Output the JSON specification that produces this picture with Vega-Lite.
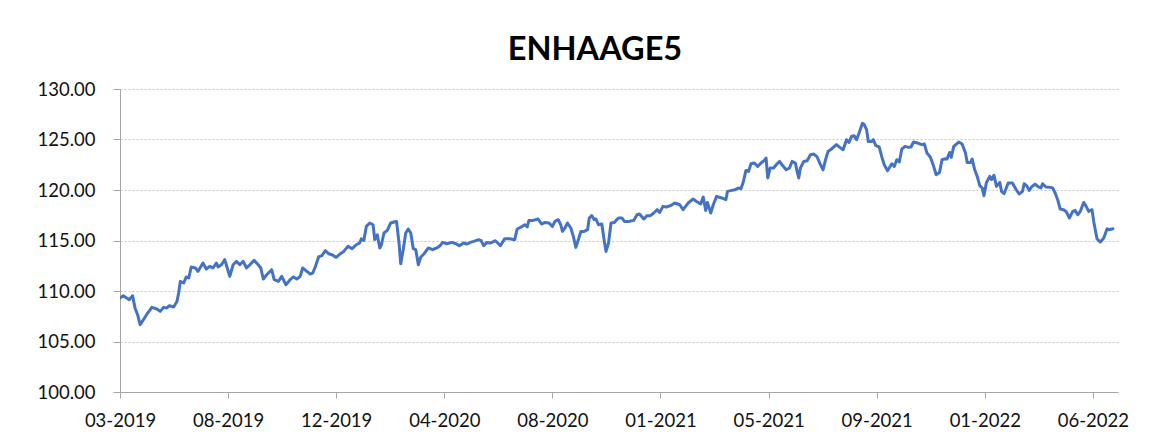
{
  "$schema": "https://vega.github.io/schema/vega-lite/v6.json",
  "width": 998,
  "height": 303,
  "autosize": {"type": "none"},
  "padding": {"left": 120, "top": 89, "right": 45, "bottom": 52},
  "background": "white",
  "title": {"text": "ENHAAGE5", "font": "Lato", "fontSize": 32.5, "fontWeight": "bold", "color": "#000000", "anchor": "middle", "dx": -24, "offset": 14},
  "data": {"values": [
    {"date": "2019-03-29", "value": 109.31},
    {"date": "2019-04-02", "value": 109.53},
    {"date": "2019-04-06", "value": 109.31},
    {"date": "2019-04-09", "value": 109.14},
    {"date": "2019-04-13", "value": 109.53},
    {"date": "2019-04-16", "value": 108.3},
    {"date": "2019-04-19", "value": 107.65},
    {"date": "2019-04-22", "value": 106.66},
    {"date": "2019-04-26", "value": 107.16},
    {"date": "2019-05-01", "value": 107.82},
    {"date": "2019-05-06", "value": 108.38},
    {"date": "2019-05-12", "value": 108.22},
    {"date": "2019-05-16", "value": 107.98},
    {"date": "2019-05-20", "value": 108.38},
    {"date": "2019-05-24", "value": 108.32},
    {"date": "2019-05-27", "value": 108.54},
    {"date": "2019-06-01", "value": 108.42},
    {"date": "2019-06-05", "value": 108.97},
    {"date": "2019-06-07", "value": 109.8},
    {"date": "2019-06-09", "value": 110.95},
    {"date": "2019-06-13", "value": 110.79},
    {"date": "2019-06-16", "value": 111.39},
    {"date": "2019-06-19", "value": 111.29},
    {"date": "2019-06-22", "value": 112.38},
    {"date": "2019-06-27", "value": 112.28},
    {"date": "2019-06-30", "value": 111.94},
    {"date": "2019-07-06", "value": 112.77},
    {"date": "2019-07-10", "value": 112.18},
    {"date": "2019-07-14", "value": 112.44},
    {"date": "2019-07-18", "value": 112.28},
    {"date": "2019-07-22", "value": 112.77},
    {"date": "2019-07-24", "value": 112.38},
    {"date": "2019-07-28", "value": 112.6},
    {"date": "2019-08-01", "value": 113.1},
    {"date": "2019-08-04", "value": 112.28},
    {"date": "2019-08-07", "value": 111.45},
    {"date": "2019-08-11", "value": 112.6},
    {"date": "2019-08-15", "value": 112.93},
    {"date": "2019-08-19", "value": 112.6},
    {"date": "2019-08-23", "value": 112.93},
    {"date": "2019-08-27", "value": 112.28},
    {"date": "2019-08-31", "value": 112.6},
    {"date": "2019-09-05", "value": 113.03},
    {"date": "2019-09-10", "value": 112.6},
    {"date": "2019-09-13", "value": 112.28},
    {"date": "2019-09-16", "value": 111.19},
    {"date": "2019-09-20", "value": 111.61},
    {"date": "2019-09-26", "value": 112.11},
    {"date": "2019-09-29", "value": 111.12},
    {"date": "2019-10-04", "value": 110.95},
    {"date": "2019-10-08", "value": 111.45},
    {"date": "2019-10-13", "value": 110.62},
    {"date": "2019-10-18", "value": 111.12},
    {"date": "2019-10-22", "value": 111.39},
    {"date": "2019-10-26", "value": 111.19},
    {"date": "2019-10-30", "value": 111.45},
    {"date": "2019-11-02", "value": 112.28},
    {"date": "2019-11-07", "value": 111.94},
    {"date": "2019-11-11", "value": 111.68},
    {"date": "2019-11-14", "value": 111.78},
    {"date": "2019-11-17", "value": 112.38},
    {"date": "2019-11-21", "value": 113.37},
    {"date": "2019-11-25", "value": 113.5},
    {"date": "2019-11-29", "value": 113.99},
    {"date": "2019-12-03", "value": 113.69},
    {"date": "2019-12-07", "value": 113.59},
    {"date": "2019-12-12", "value": 113.33},
    {"date": "2019-12-17", "value": 113.69},
    {"date": "2019-12-21", "value": 113.92},
    {"date": "2019-12-26", "value": 114.42},
    {"date": "2019-12-31", "value": 114.19},
    {"date": "2020-01-05", "value": 114.58},
    {"date": "2020-01-09", "value": 114.75},
    {"date": "2020-01-11", "value": 115.18},
    {"date": "2020-01-14", "value": 115.01},
    {"date": "2020-01-17", "value": 116.4},
    {"date": "2020-01-21", "value": 116.73},
    {"date": "2020-01-25", "value": 116.56},
    {"date": "2020-01-27", "value": 115.08},
    {"date": "2020-01-30", "value": 115.57},
    {"date": "2020-02-02", "value": 114.26},
    {"date": "2020-02-04", "value": 114.58},
    {"date": "2020-02-07", "value": 115.74},
    {"date": "2020-02-11", "value": 116.0},
    {"date": "2020-02-15", "value": 116.73},
    {"date": "2020-02-19", "value": 116.83},
    {"date": "2020-02-22", "value": 116.89},
    {"date": "2020-02-25", "value": 114.75},
    {"date": "2020-02-27", "value": 112.7},
    {"date": "2020-03-01", "value": 114.09},
    {"date": "2020-03-04", "value": 115.74},
    {"date": "2020-03-07", "value": 116.14},
    {"date": "2020-03-10", "value": 115.74},
    {"date": "2020-03-13", "value": 114.19},
    {"date": "2020-03-16", "value": 114.09},
    {"date": "2020-03-19", "value": 112.6},
    {"date": "2020-03-22", "value": 113.37},
    {"date": "2020-03-26", "value": 113.69},
    {"date": "2020-03-31", "value": 114.26},
    {"date": "2020-04-05", "value": 114.09},
    {"date": "2020-04-10", "value": 114.26},
    {"date": "2020-04-14", "value": 114.49},
    {"date": "2020-04-17", "value": 114.81},
    {"date": "2020-04-22", "value": 114.68},
    {"date": "2020-04-28", "value": 114.81},
    {"date": "2020-05-03", "value": 114.68},
    {"date": "2020-05-07", "value": 114.49},
    {"date": "2020-05-12", "value": 114.75},
    {"date": "2020-05-16", "value": 114.65},
    {"date": "2020-05-20", "value": 114.81},
    {"date": "2020-05-24", "value": 114.91},
    {"date": "2020-05-30", "value": 115.08},
    {"date": "2020-06-02", "value": 114.98},
    {"date": "2020-06-05", "value": 114.49},
    {"date": "2020-06-09", "value": 114.81},
    {"date": "2020-06-13", "value": 114.75},
    {"date": "2020-06-19", "value": 114.98},
    {"date": "2020-06-25", "value": 114.49},
    {"date": "2020-06-30", "value": 115.18},
    {"date": "2020-07-06", "value": 115.18},
    {"date": "2020-07-12", "value": 115.08},
    {"date": "2020-07-15", "value": 116.14},
    {"date": "2020-07-20", "value": 116.34},
    {"date": "2020-07-24", "value": 116.56},
    {"date": "2020-07-27", "value": 116.34},
    {"date": "2020-07-29", "value": 116.99},
    {"date": "2020-08-03", "value": 116.99},
    {"date": "2020-08-09", "value": 117.13},
    {"date": "2020-08-13", "value": 116.63},
    {"date": "2020-08-17", "value": 116.79},
    {"date": "2020-08-22", "value": 116.73},
    {"date": "2020-08-26", "value": 116.4},
    {"date": "2020-08-29", "value": 116.89},
    {"date": "2020-09-02", "value": 117.06},
    {"date": "2020-09-05", "value": 116.56},
    {"date": "2020-09-07", "value": 115.9},
    {"date": "2020-09-10", "value": 116.24},
    {"date": "2020-09-13", "value": 116.73},
    {"date": "2020-09-17", "value": 116.24},
    {"date": "2020-09-20", "value": 115.41},
    {"date": "2020-09-23", "value": 114.32},
    {"date": "2020-09-26", "value": 115.08},
    {"date": "2020-09-29", "value": 115.9},
    {"date": "2020-10-03", "value": 115.9},
    {"date": "2020-10-07", "value": 116.07},
    {"date": "2020-10-09", "value": 117.23},
    {"date": "2020-10-12", "value": 117.46},
    {"date": "2020-10-15", "value": 117.06},
    {"date": "2020-10-17", "value": 117.13},
    {"date": "2020-10-20", "value": 116.56},
    {"date": "2020-10-24", "value": 116.63},
    {"date": "2020-10-27", "value": 114.91},
    {"date": "2020-10-29", "value": 113.92},
    {"date": "2020-11-01", "value": 114.75},
    {"date": "2020-11-04", "value": 116.73},
    {"date": "2020-11-08", "value": 116.79},
    {"date": "2020-11-10", "value": 116.99},
    {"date": "2020-11-13", "value": 117.23},
    {"date": "2020-11-17", "value": 117.23},
    {"date": "2020-11-20", "value": 116.89},
    {"date": "2020-11-25", "value": 116.89},
    {"date": "2020-12-01", "value": 116.99},
    {"date": "2020-12-05", "value": 117.55},
    {"date": "2020-12-08", "value": 117.62},
    {"date": "2020-12-13", "value": 117.13},
    {"date": "2020-12-17", "value": 117.46},
    {"date": "2020-12-21", "value": 117.46},
    {"date": "2020-12-25", "value": 117.72},
    {"date": "2020-12-29", "value": 118.05},
    {"date": "2021-01-01", "value": 117.78},
    {"date": "2021-01-05", "value": 118.38},
    {"date": "2021-01-09", "value": 118.32},
    {"date": "2021-01-14", "value": 118.45},
    {"date": "2021-01-19", "value": 118.71},
    {"date": "2021-01-25", "value": 118.54},
    {"date": "2021-01-29", "value": 118.05},
    {"date": "2021-02-04", "value": 118.71},
    {"date": "2021-02-10", "value": 119.11},
    {"date": "2021-02-14", "value": 118.87},
    {"date": "2021-02-19", "value": 118.61},
    {"date": "2021-02-22", "value": 119.31},
    {"date": "2021-02-25", "value": 117.98},
    {"date": "2021-02-27", "value": 118.77},
    {"date": "2021-03-03", "value": 117.72},
    {"date": "2021-03-06", "value": 118.54},
    {"date": "2021-03-10", "value": 119.37},
    {"date": "2021-03-16", "value": 119.21},
    {"date": "2021-03-21", "value": 119.04},
    {"date": "2021-03-23", "value": 119.86},
    {"date": "2021-03-28", "value": 119.96},
    {"date": "2021-04-01", "value": 120.03},
    {"date": "2021-04-05", "value": 120.2},
    {"date": "2021-04-08", "value": 120.13},
    {"date": "2021-04-11", "value": 120.85},
    {"date": "2021-04-14", "value": 121.94},
    {"date": "2021-04-17", "value": 121.84},
    {"date": "2021-04-20", "value": 122.6},
    {"date": "2021-04-24", "value": 122.67},
    {"date": "2021-04-28", "value": 122.34},
    {"date": "2021-05-02", "value": 122.67},
    {"date": "2021-05-06", "value": 122.93},
    {"date": "2021-05-08", "value": 123.17},
    {"date": "2021-05-10", "value": 121.19},
    {"date": "2021-05-13", "value": 122.18},
    {"date": "2021-05-17", "value": 122.18},
    {"date": "2021-05-21", "value": 122.57},
    {"date": "2021-05-24", "value": 122.83},
    {"date": "2021-05-27", "value": 122.5},
    {"date": "2021-06-01", "value": 122.0},
    {"date": "2021-06-05", "value": 122.18},
    {"date": "2021-06-08", "value": 122.83},
    {"date": "2021-06-12", "value": 122.67},
    {"date": "2021-06-14", "value": 121.84},
    {"date": "2021-06-16", "value": 121.19},
    {"date": "2021-06-18", "value": 122.18},
    {"date": "2021-06-22", "value": 122.83},
    {"date": "2021-06-26", "value": 122.9},
    {"date": "2021-06-30", "value": 123.5},
    {"date": "2021-07-04", "value": 123.56},
    {"date": "2021-07-08", "value": 123.27},
    {"date": "2021-07-11", "value": 122.67},
    {"date": "2021-07-15", "value": 122.0},
    {"date": "2021-07-18", "value": 123.0},
    {"date": "2021-07-21", "value": 123.82},
    {"date": "2021-07-25", "value": 124.06},
    {"date": "2021-07-31", "value": 124.49},
    {"date": "2021-08-04", "value": 124.22},
    {"date": "2021-08-08", "value": 123.99},
    {"date": "2021-08-12", "value": 124.98},
    {"date": "2021-08-15", "value": 124.71},
    {"date": "2021-08-18", "value": 125.31},
    {"date": "2021-08-21", "value": 125.38},
    {"date": "2021-08-24", "value": 124.98},
    {"date": "2021-08-27", "value": 125.64},
    {"date": "2021-08-31", "value": 126.6},
    {"date": "2021-09-02", "value": 126.5},
    {"date": "2021-09-05", "value": 125.97},
    {"date": "2021-09-07", "value": 124.81},
    {"date": "2021-09-11", "value": 124.81},
    {"date": "2021-09-13", "value": 124.98},
    {"date": "2021-09-16", "value": 124.39},
    {"date": "2021-09-20", "value": 124.26},
    {"date": "2021-09-23", "value": 123.33},
    {"date": "2021-09-26", "value": 122.5},
    {"date": "2021-09-30", "value": 121.91},
    {"date": "2021-10-05", "value": 122.6},
    {"date": "2021-10-08", "value": 122.34},
    {"date": "2021-10-11", "value": 123.0},
    {"date": "2021-10-14", "value": 122.77},
    {"date": "2021-10-17", "value": 124.06},
    {"date": "2021-10-21", "value": 124.32},
    {"date": "2021-10-25", "value": 124.22},
    {"date": "2021-10-28", "value": 124.26},
    {"date": "2021-10-31", "value": 124.75},
    {"date": "2021-11-05", "value": 124.65},
    {"date": "2021-11-10", "value": 124.49},
    {"date": "2021-11-13", "value": 124.55},
    {"date": "2021-11-16", "value": 123.66},
    {"date": "2021-11-20", "value": 123.27},
    {"date": "2021-11-24", "value": 122.34},
    {"date": "2021-11-27", "value": 121.51},
    {"date": "2021-12-01", "value": 121.74},
    {"date": "2021-12-04", "value": 123.0},
    {"date": "2021-12-08", "value": 123.1},
    {"date": "2021-12-10", "value": 123.07},
    {"date": "2021-12-13", "value": 123.72},
    {"date": "2021-12-15", "value": 123.23},
    {"date": "2021-12-18", "value": 124.32},
    {"date": "2021-12-24", "value": 124.75},
    {"date": "2021-12-28", "value": 124.55},
    {"date": "2022-01-01", "value": 123.66},
    {"date": "2022-01-03", "value": 122.73},
    {"date": "2022-01-07", "value": 122.73},
    {"date": "2022-01-09", "value": 123.07},
    {"date": "2022-01-12", "value": 122.0},
    {"date": "2022-01-15", "value": 121.35},
    {"date": "2022-01-18", "value": 120.43},
    {"date": "2022-01-21", "value": 120.2},
    {"date": "2022-01-23", "value": 119.44},
    {"date": "2022-01-26", "value": 120.75},
    {"date": "2022-01-30", "value": 121.35},
    {"date": "2022-02-01", "value": 121.02},
    {"date": "2022-02-04", "value": 121.45},
    {"date": "2022-02-07", "value": 120.36},
    {"date": "2022-02-11", "value": 120.75},
    {"date": "2022-02-13", "value": 119.86},
    {"date": "2022-02-16", "value": 119.63},
    {"date": "2022-02-21", "value": 120.69},
    {"date": "2022-02-26", "value": 120.69},
    {"date": "2022-03-02", "value": 120.1},
    {"date": "2022-03-06", "value": 119.6},
    {"date": "2022-03-10", "value": 119.86},
    {"date": "2022-03-12", "value": 120.62},
    {"date": "2022-03-15", "value": 120.43},
    {"date": "2022-03-18", "value": 119.96},
    {"date": "2022-03-21", "value": 120.3},
    {"date": "2022-03-25", "value": 120.59},
    {"date": "2022-03-29", "value": 120.3},
    {"date": "2022-04-01", "value": 120.2},
    {"date": "2022-04-03", "value": 120.62},
    {"date": "2022-04-07", "value": 120.3},
    {"date": "2022-04-12", "value": 120.26},
    {"date": "2022-04-15", "value": 120.2},
    {"date": "2022-04-18", "value": 119.7},
    {"date": "2022-04-21", "value": 119.04},
    {"date": "2022-04-24", "value": 118.12},
    {"date": "2022-04-28", "value": 118.05},
    {"date": "2022-05-01", "value": 117.88},
    {"date": "2022-05-05", "value": 117.23},
    {"date": "2022-05-09", "value": 117.88},
    {"date": "2022-05-12", "value": 117.98},
    {"date": "2022-05-15", "value": 117.55},
    {"date": "2022-05-18", "value": 117.88},
    {"date": "2022-05-22", "value": 118.77},
    {"date": "2022-05-25", "value": 118.38},
    {"date": "2022-05-28", "value": 117.88},
    {"date": "2022-06-01", "value": 118.05},
    {"date": "2022-06-03", "value": 116.89},
    {"date": "2022-06-07", "value": 115.15},
    {"date": "2022-06-11", "value": 114.85},
    {"date": "2022-06-15", "value": 115.25},
    {"date": "2022-06-19", "value": 116.17},
    {"date": "2022-06-21", "value": 116.07},
    {"date": "2022-06-26", "value": 116.17}
  ]},
  "mark": {"type": "line", "color": "#4472C4", "strokeWidth": 3, "strokeJoin": "round", "strokeCap": "round", "clip": true},
  "encoding": {
    "x": {
      "field": "date",
      "type": "temporal",
      "scale": {"type": "utc", "domain": [{"year": 2019, "month": 3, "date": 29, "utc": true}, {"year": 2022, "month": 7, "date": 2, "utc": true}], "nice": false},
      "axis": {
        "title": null,
        "values": [
          {"year": 2019, "month": 3, "date": 29, "utc": true},
          {"year": 2019, "month": 8, "date": 5, "utc": true},
          {"year": 2019, "month": 12, "date": 12, "utc": true},
          {"year": 2020, "month": 4, "date": 19, "utc": true},
          {"year": 2020, "month": 8, "date": 26, "utc": true},
          {"year": 2021, "month": 1, "date": 2, "utc": true},
          {"year": 2021, "month": 5, "date": 11, "utc": true},
          {"year": 2021, "month": 9, "date": 17, "utc": true},
          {"year": 2022, "month": 1, "date": 24, "utc": true},
          {"year": 2022, "month": 6, "date": 2, "utc": true}
        ],
        "labelExpr": "utcFormat(datum.value, '%m-%Y')",
        "grid": false,
        "tickSize": 6,
        "tickColor": "#a6a6a6",
        "domainColor": "#a6a6a6",
        "labelFont": "Lato",
        "labelFontSize": 18.5,
        "labelColor": "#111111",
        "labelPadding": 13,
        "labelFlush": false,
        "labelOverlap": false
      }
    },
    "y": {
      "field": "value",
      "type": "quantitative",
      "scale": {"domain": [100, 130], "nice": false, "zero": false},
      "axis": {
        "title": null,
        "values": [100, 105, 110, 115, 120, 125, 130],
        "format": ".2f",
        "grid": true,
        "gridColor": "#c4c4c4",
        "gridDash": [2, 2],
        "gridWidth": 1,
        "tickSize": 7,
        "tickColor": "#a6a6a6",
        "domainColor": "#a6a6a6",
        "labelFont": "Lato",
        "labelFontSize": 18.5,
        "labelColor": "#111111",
        "labelPadding": 18,
        "labelOverlap": false
      }
    }
  },
  "config": {"view": {"stroke": null}}
}
